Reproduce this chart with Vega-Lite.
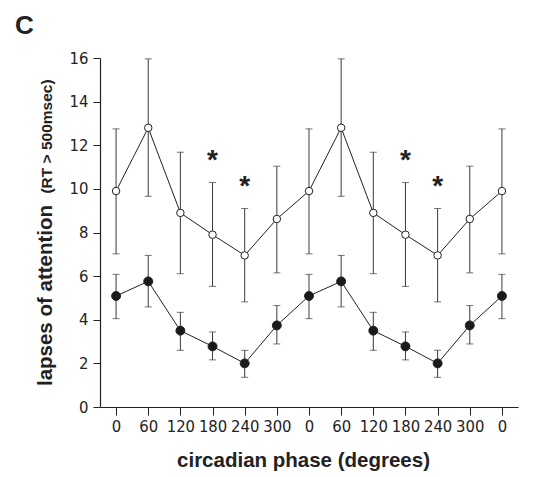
{
  "$schema": "https://vega.github.io/schema/vega-lite/v6.json",
  "width": 418,
  "height": 349,
  "autosize": "none",
  "padding": {"left": 100, "top": 58, "right": 23, "bottom": 70},
  "background": "white",
  "title": {"text": "C", "anchor": "start", "frame": "group", "font": "Liberation Sans", "fontSize": 26, "fontWeight": "bold", "color": "#222", "dx": -85, "offset": 11},
  "config": {
    "view": {"stroke": null},
    "axis": {"grid": false, "domainColor": "#222", "tickColor": "#222", "labelColor": "#222", "labelFont": "DejaVu Sans Condensed, Liberation Sans", "labelFontSize": 16.5, "tickSize": 7, "domainWidth": 1.2, "tickWidth": 1, "titleColor": "#222", "titleFont": "Liberation Sans", "titleFontWeight": "bold"}
  },
  "datasets": {
    "pts": [
      {"slot": 0, "group": "open", "mean": 9.9, "lo": 7.02, "hi": 12.75},
      {"slot": 1, "group": "open", "mean": 12.8, "lo": 9.66, "hi": 15.96},
      {"slot": 2, "group": "open", "mean": 8.9, "lo": 6.11, "hi": 11.68},
      {"slot": 3, "group": "open", "mean": 7.9, "lo": 5.53, "hi": 10.29},
      {"slot": 4, "group": "open", "mean": 6.95, "lo": 4.82, "hi": 9.1},
      {"slot": 5, "group": "open", "mean": 8.62, "lo": 6.15, "hi": 11.04},
      {"slot": 6, "group": "open", "mean": 9.9, "lo": 7.02, "hi": 12.75},
      {"slot": 7, "group": "open", "mean": 12.8, "lo": 9.66, "hi": 15.96},
      {"slot": 8, "group": "open", "mean": 8.9, "lo": 6.11, "hi": 11.68},
      {"slot": 9, "group": "open", "mean": 7.9, "lo": 5.53, "hi": 10.29},
      {"slot": 10, "group": "open", "mean": 6.95, "lo": 4.82, "hi": 9.1},
      {"slot": 11, "group": "open", "mean": 8.62, "lo": 6.15, "hi": 11.04},
      {"slot": 12, "group": "open", "mean": 9.9, "lo": 7.02, "hi": 12.75},
      {"slot": 0, "group": "filled", "mean": 5.09, "lo": 4.05, "hi": 6.08},
      {"slot": 1, "group": "filled", "mean": 5.76, "lo": 4.59, "hi": 6.95},
      {"slot": 2, "group": "filled", "mean": 3.5, "lo": 2.6, "hi": 4.34},
      {"slot": 3, "group": "filled", "mean": 2.78, "lo": 2.16, "hi": 3.44},
      {"slot": 4, "group": "filled", "mean": 2.0, "lo": 1.36, "hi": 2.6},
      {"slot": 5, "group": "filled", "mean": 3.74, "lo": 2.89, "hi": 4.65},
      {"slot": 6, "group": "filled", "mean": 5.09, "lo": 4.05, "hi": 6.08},
      {"slot": 7, "group": "filled", "mean": 5.76, "lo": 4.59, "hi": 6.95},
      {"slot": 8, "group": "filled", "mean": 3.5, "lo": 2.6, "hi": 4.34},
      {"slot": 9, "group": "filled", "mean": 2.78, "lo": 2.16, "hi": 3.44},
      {"slot": 10, "group": "filled", "mean": 2.0, "lo": 1.36, "hi": 2.6},
      {"slot": 11, "group": "filled", "mean": 3.74, "lo": 2.89, "hi": 4.65},
      {"slot": 12, "group": "filled", "mean": 5.09, "lo": 4.05, "hi": 6.08}
    ],
    "stars": [
      {"slot": 3, "y": 11.65, "label": "*"},
      {"slot": 4, "y": 10.43, "label": "*"},
      {"slot": 9, "y": 11.65, "label": "*"},
      {"slot": 10, "y": 10.43, "label": "*"}
    ]
  },
  "encoding": {
    "x": {"field": "slot", "type": "ordinal", "scale": {"type": "point", "padding": 0.5},
      "axis": {"title": "circadian phase (degrees)", "labelAngle": 0, "tickSize": 8, "labelPadding": 3, "labelExpr": "['0','60','120','180','240','300'][datum.value % 6]", "titleFontSize": 20.5, "titleX": 203, "titleY": 59, "titleBaseline": "alphabetic", "titleAlign": "center"}}
  },
  "layer": [
    {
      "data": {"name": "pts"},
      "layer": [
        {"mark": {"type": "rule", "color": "#3a3a3a", "strokeWidth": 1},
         "encoding": {"y": {"field": "lo", "type": "quantitative", "scale": {"domain": [0, 16]},
           "axis": {"values": [0, 2, 4, 6, 8, 10, 12, 14, 16], "title": "lapses of attention", "titleFontSize": 20.5, "titleAngle": -90, "titleX": -49, "titleY": 237, "titleBaseline": "alphabetic", "titleAlign": "center", "labelPadding": 5}},
           "y2": {"field": "hi"}}},
        {"mark": {"type": "tick", "color": "#3a3a3a", "size": 7, "thickness": 1},
         "encoding": {"y": {"field": "lo", "type": "quantitative"}}},
        {"mark": {"type": "tick", "color": "#3a3a3a", "size": 7, "thickness": 1},
         "encoding": {"y": {"field": "hi", "type": "quantitative"}}},
        {"mark": {"type": "line", "color": "#222", "strokeWidth": 1},
         "encoding": {"y": {"field": "mean", "type": "quantitative"}, "detail": {"field": "group"}}},
        {"mark": {"type": "point", "shape": "circle", "filled": true, "stroke": "#222", "strokeWidth": 1, "opacity": 1},
         "encoding": {"y": {"field": "mean", "type": "quantitative"},
           "fill": {"field": "group", "type": "nominal", "scale": {"domain": ["open", "filled"], "range": ["white", "#1a1a1a"]}, "legend": null},
           "size": {"field": "group", "type": "nominal", "scale": {"domain": ["open", "filled"], "range": [56, 80]}, "legend": null}}}
      ]
    },
    {
      "data": {"name": "stars"},
      "mark": {"type": "text", "font": "Liberation Sans", "fontWeight": "bold", "fontSize": 28, "color": "#222", "baseline": "alphabetic", "align": "center", "dy": 16},
      "encoding": {
        "y": {"field": "y", "type": "quantitative", "scale": {"domain": [0, 16]},
          "axis": {"orient": "left", "labels": false, "ticks": false, "domain": false, "title": "(RT > 500msec)", "titleFontSize": 15.5, "titleAngle": -90, "titleX": -49, "titleY": 78, "titleBaseline": "alphabetic", "titleAlign": "center"}},
        "text": {"field": "label"}
      }
    }
  ],
  "resolve": {"scale": {"y": "independent"}, "axis": {"y": "independent"}}
}
